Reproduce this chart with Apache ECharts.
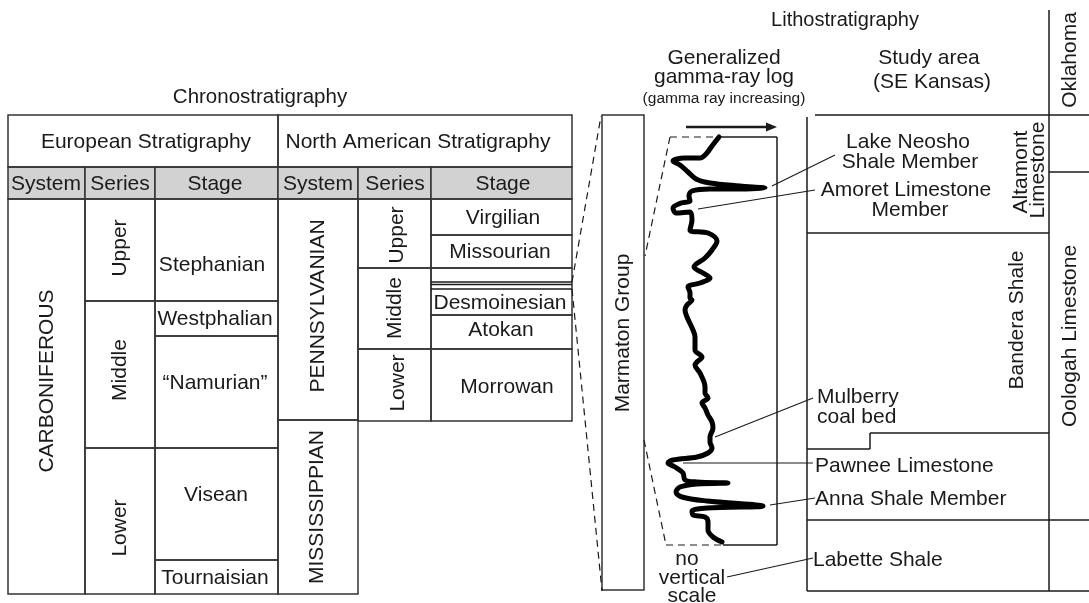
<!DOCTYPE html>
<html>
<head>
<meta charset="utf-8">
<script src="https://cdn.jsdelivr.net/npm/echarts@6/dist/echarts.min.js"></script>
<style>
html,body{margin:0;padding:0;background:#fff;}
#c{width:1089px;height:603px;}
</style>
</head>
<body>
<div id="c"></div>
<script>
// ---- Diagram extents (diagram units) ----
const X_EXTENT = [0, 1089];
const Y_EXTENT = [0, 603];

// ---- Table cells: [x0, y0, x1, y1] ----
const chronoCells = [
  [8,115,278,167],[278,115,572,167],
  [8,199,85,594],
  [85,199,155,301],[85,301,155,448],[85,448,155,594],
  [155,199,278,301],[155,301,278,336],[155,336,278,448],[155,448,278,560],[155,560,278,594],
  [278,199,358,420],[278,420,358,594],
  [358,199,431,268],[358,268,431,349],[358,349,431,421],
  [431,199,572,235],[431,235,572,268],[431,268,572,315],[431,315,572,349],[431,349,572,421],
  [602,115,644,590]
];
const headerCells = [
  [8,167,85,199],[85,167,155,199],[155,167,278,199],
  [278,167,358,199],[358,167,431,199],[431,167,572,199]
];

// ---- Solid segments: [x0, y0, x1, y1] ----
const solidSegments = [
  [431,282,572,282],[431,284.5,572,284.5],[431,289,572,289],
  [719,137,777,137],[777,137,777,545],[723,545,777,545],
  [815,115,1089,115],[807,117,807,591],[807,233,1049,233],[1049,10,1049,591],
  [1049,172,1089,172],[807,520,1089,520],[807,591,1089,591],
  [807,449,870,449],[870,449,870,433],[870,433,1049,433]
];
const leaderSegments = [
  [772,186,835,155],[698,209,815,190],[715,437,813,398],
  [683,463,813,463],[770,505,815,498],[727,577,813,558]
];
const dashedSegments = [
  [572,282,601,116],[572,289,602,591],
  [670,137,719,137],[670,137,645,256],[644,440,666,545],[666,545,723,545]
];
const arrowSegment = [[686,127,768,127]];

// ---- Gamma-ray log (gamma value, depth) ----
const gammaValues = [719,712,706,700,684,673,680,688,696,710,740,765,740,710,692,689,690,681,673,676,690,692,690,708,717,712,705,694,703,710,700,688,690,690,692,687,685,687,693,695,695,702,697,695,700,705,705,708,702,705,708,712,713,710,710,712,708,697,673,668,675,683,685,697,728,697,680,676,682,707,763,707,692,693,705,708,708,713,722];
const gammaDepth  = [137,146,154,158,158,161,165,172,179,183,186,188,189,189,191,196,201,203,208,213,212,220,230,233,241,250,258,267,273,278,283,287,293,298,300,305,310,317,330,337,350,357,362,365,373,387,393,398,403,408,415,422,428,437,442,448,453,457,460,463,467,473,480,482,483,484,487,492,497,501,506,508,511,515,517,522,530,537,542];

// ---- Text labels: [x, y, text, vertical(1/0), align, size] ----
const textLabels = [
  [260,97,'Chronostratigraphy',0,'center',20.5],
  [845,20,'Lithostratigraphy',0,'center',20],
  [724,58,'Generalized',0,'center',21],
  [724,77,'gamma-ray log',0,'center',21],
  [724,99,'(gamma ray increasing)',0,'center',15.5],
  [929,58,'Study area',0,'center',21],
  [932,82,'(SE Kansas)',0,'center',21],
  [146,142,'European Stratigraphy',0,'center',21],
  [418,142,'North American Stratigraphy',0,'center',21],
  [46,184,'System',0,'center',21],[120,184,'Series',0,'center',21],[215,184,'Stage',0,'center',21],
  [318,184,'System',0,'center',21],[395,184,'Series',0,'center',21],[503,184,'Stage',0,'center',21],
  [47,381,'CARBONIFEROUS',1,'center',21],
  [120,248,'Upper',1,'center',21],[120,370,'Middle',1,'center',21],[120,528,'Lower',1,'center',21],
  [212,265,'Stephanian',0,'center',21],[215,319,'Westphalian',0,'center',21],
  [215,383,'\u201cNamurian\u201d',0,'center',21],[216,495,'Visean',0,'center',21],
  [215,578,'Tournaisian',0,'center',21],
  [318,306,'PENNSYLVANIAN',1,'center',21],[317,507,'MISSISSIPPIAN',1,'center',21],
  [397,235,'Upper',1,'center',21],[395,308,'Middle',1,'center',21],[398,383,'Lower',1,'center',21],
  [503,218,'Virgilian',0,'center',21],[500,252,'Missourian',0,'center',21],
  [500,303,'Desmoinesian',0,'center',21],[501,330,'Atokan',0,'center',21],
  [507,387,'Morrowan',0,'center',21],
  [623,333,'Marmaton Group',1,'center',21],
  [908,142,'Lake Neosho',0,'center',21],[910,162,'Shale Member',0,'center',21],
  [906,190,'Amoret Limestone',0,'center',21],[910,210,'Member',0,'center',21],
  [1021,172,'Altamont',1,'center',21],[1038,170,'Limestone',1,'center',21],
  [1070,60,'Oklahoma',1,'center',21],
  [1017,320,'Bandera Shale',1,'center',21],
  [1070,336,'Oologah Limestone',1,'center',21],
  [817,397,'Mulberry',0,'left',21],[817,417,'coal bed',0,'left',21],
  [815,466,'Pawnee Limestone',0,'left',21],
  [815,499,'Anna Shale Member',0,'left',21],
  [813,560,'Labette Shale',0,'left',21],
  [687,559,'no',0,'center',21],[692,578,'vertical',0,'center',21],[692,596,'scale',0,'center',21]
];

const INK = '#1a1a1a';
const FONT = '"Liberation Sans", Arial, Helvetica, sans-serif';

function rectSeries(data, fill, lw) {
  return {
    type: 'custom', data: data, z: 2, silent: true,
    renderItem: function (params, api) {
      const p0 = api.coord([api.value(0), api.value(1)]);
      const p1 = api.coord([api.value(2), api.value(3)]);
      return { type: 'rect',
        shape: { x: p0[0], y: p0[1], width: p1[0] - p0[0], height: p1[1] - p0[1] },
        style: { fill: fill, stroke: '#333', lineWidth: lw } };
    }
  };
}
function segSeries(data, lw, dash, z) {
  return {
    type: 'custom', data: data, z: z || 3, silent: true,
    renderItem: function (params, api) {
      const p0 = api.coord([api.value(0), api.value(1)]);
      const p1 = api.coord([api.value(2), api.value(3)]);
      return { type: 'line',
        shape: { x1: p0[0], y1: p0[1], x2: p1[0], y2: p1[1] },
        style: { stroke: INK, lineWidth: lw, lineDash: dash || null } };
    }
  };
}

const chart = echarts.init(document.getElementById('c'), null, { renderer: 'canvas' });
chart.setOption({
  animation: false,
  backgroundColor: '#fff',
  grid: { left: 0, right: 0, top: 0, bottom: 0 },
  xAxis: { type: 'value', min: X_EXTENT[0], max: X_EXTENT[1], show: false },
  yAxis: { type: 'value', min: Y_EXTENT[0], max: Y_EXTENT[1], inverse: true, show: false },
  series: [
    rectSeries(headerCells, '#d2d2d2', 1.5),
    rectSeries(chronoCells, 'none', 1.5),
    segSeries(solidSegments, 1.5, null),
    segSeries(leaderSegments, 1.1, null),
    segSeries(dashedSegments, 1.2, [7, 5]),
    {
      type: 'custom', data: arrowSegment, z: 4, silent: true,
      renderItem: function (params, api) {
        const p0 = api.coord([api.value(0), api.value(1)]);
        const p1 = api.coord([api.value(2), api.value(3)]);
        return { type: 'group', children: [
          { type: 'line', shape: { x1: p0[0], y1: p0[1], x2: p1[0], y2: p1[1] },
            style: { stroke: INK, lineWidth: 2.5 } },
          { type: 'polygon', shape: { points: [[p1[0] - 2, p1[1] - 4.5], [p1[0] + 9, p1[1]], [p1[0] - 2, p1[1] + 4.5]] },
            style: { fill: INK } }
        ] };
      }
    },
    {
      type: 'line', z: 5, silent: true,
      data: gammaValues.map(function (g, i) { return [g, gammaDepth[i]]; }),
      symbol: 'none', smooth: 0.35,
      lineStyle: { color: '#000', width: 5, cap: 'round', join: 'round' }
    },
    {
      type: 'custom', data: textLabels, z: 6, silent: true,
      renderItem: function (params, api) {
        const d = textLabels[params.dataIndex];
        const p = api.coord([d[0], d[1]]);
        return { type: 'text', x: p[0], y: p[1], rotation: d[3] ? Math.PI / 2 : 0,
          style: { text: d[2], fill: INK, font: d[5] + 'px ' + FONT,
            textAlign: d[4], textVerticalAlign: 'middle' } };
      }
    }
  ]
});
</script>
</body>
</html>
